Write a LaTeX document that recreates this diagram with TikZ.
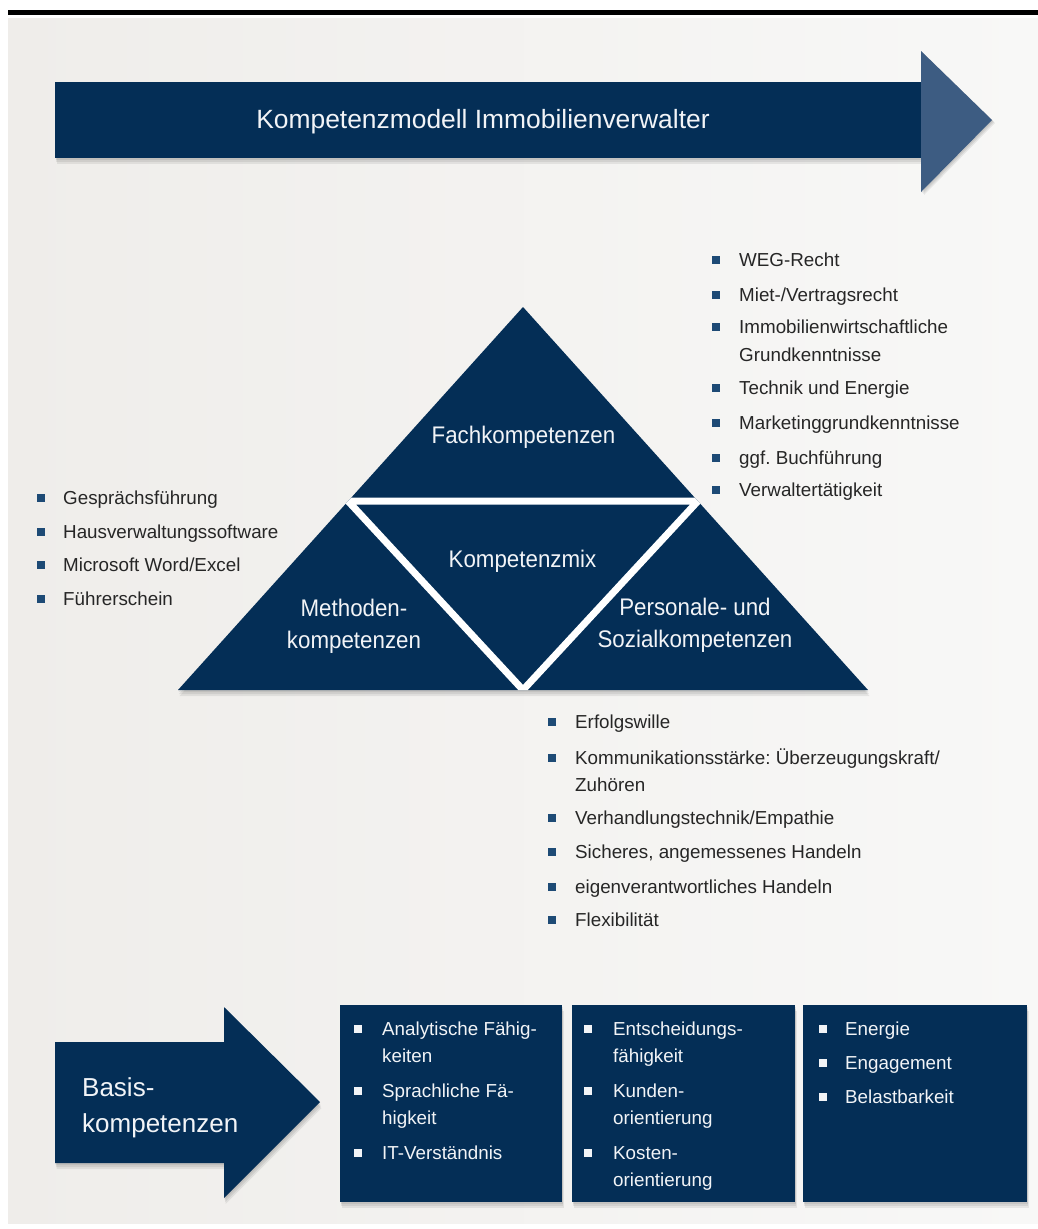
\documentclass[tikz,border=0pt]{standalone}
\usepackage{fontspec}
\setmainfont{Liberation Sans}
\newfontfamily\trifont[FakeStretch=0.93]{Liberation Sans}
\frenchspacing
\definecolor{navy}{HTML}{042E56}
\definecolor{headblue}{HTML}{3D5C82}
\definecolor{bgl}{HTML}{EFEDEA}
\definecolor{bgr}{HTML}{F8F8F7}
\definecolor{txtgray}{HTML}{262626}
\definecolor{bulblue}{HTML}{1D4A75}
\definecolor{wtext}{HTML}{F2F4F7}
\begin{document}
\begin{tikzpicture}[x=1pt,y=-1pt,
  lst/.style={anchor=base west, inner sep=0pt, font=\fontsize{18.8}{22}\selectfont, text=txtgray},
  wlst/.style={lst, text=wtext},
  big/.style={text=wtext, inner sep=0pt, align=center, font=\trifont\fontsize{24}{32}\selectfont},
  shd/.style={fill=black, opacity=0.07},
  box/.style={fill=navy, inner sep=0pt, anchor=north west, minimum height=197pt}]
\useasboundingbox (0,0) rectangle (1038,1229);
\fill[white] (0,0) rectangle (1038,1229);
\shade[left color=bgl, right color=bgr] (8,18) rectangle (1038,1223);
\draw[line width=5pt, black] (8,12.5) -- (1038,12.5);

% title arrow
\foreach \s in {2,4,6} {
  \fill[shd, shift={(\s/4,\s)}] (55,82) rectangle (921,158);
  \fill[shd, shift={(\s/2,\s/2)}] (921,51) -- (992,120) -- (921,192) -- cycle;
}
\fill[navy] (55,82) rectangle (921,158);
\fill[headblue] (921,51) -- (992,120) -- (921,192) -- cycle;
\node[anchor=base, inner sep=0pt, text=wtext, font=\fontsize{26.4}{30}\selectfont] (title) at (483,128) {Kompetenzmodell Immobilienverwalter};

% triangle
\foreach \s in {2,4,6} {
  \fill[shd, shift={(\s/4,\s)}] (523,307) -- (868,690) -- (178,690) -- cycle;
}
\fill[navy] (523,307) -- (868,690) -- (178,690) -- cycle;
\begin{scope}
  \clip (523,307) -- (868,690) -- (178,690) -- cycle;
  \draw[white, line width=7pt, line join=miter] (348,501) -- (698,501) -- (523,690) -- cycle;
\end{scope}
\node[big, anchor=base] (fach) at (523.5,443) {Fachkompetenzen};
\node[big, anchor=base] (mix) at (522.5,567) {Kompetenzmix};
\node[big] (meth) at (354,626) {Methoden-\\kompetenzen};
\node[big] (pers) at (695,625) {Personale- und\\Sozialkompetenzen};

% left list
\foreach \y in {498,531.5,565,598.5} \fill[bulblue] (37,\y-4) rectangle ++(8,8);
\foreach \t/\y [count=\i] in {{Gesprächsführung}/498,{Hausverwaltungssoftware}/531.5,{Microsoft Word/Excel}/565,{Führerschein}/598.5}
  \node[lst] (L\i) at (63,\y+6.7) {\t};

% right list
\foreach \y in {260,295,327,388,423,458,490} \fill[bulblue] (712,\y-4) rectangle ++(8,8);
\foreach \t/\y [count=\i] in {{WEG-Recht}/260,{Miet-/Vertragsrecht}/295,{Immobilienwirtschaftliche}/327,{Grundkenntnisse}/355,{Technik und Energie}/388,{Marketinggrundkenntnisse}/423,{ggf. Buchführung}/458,{Verwaltertätigkeit}/490}
  \node[lst] (R\i) at (739,\y+6.7) {\t};

% bottom list
\foreach \y in {722,758,818,852,887,920} \fill[bulblue] (548,\y-4) rectangle ++(8,8);
\foreach \t/\y [count=\i] in {{Erfolgswille}/722,{Kommunikationsstärke: Überzeugungskraft/}/758,{Zuhören}/785,{Verhandlungstechnik/Empathie}/818,{Sicheres, angemessenes Handeln}/852,{eigenverantwortliches Handeln}/887,{Flexibilität}/920}
  \node[lst] (P\i) at (575,\y+6.7) {\t};

% basis arrow
\foreach \s in {2,4,6} {
  \fill[shd, shift={(\s/4,\s)}] (55,1042) -- (224,1042) -- (224,1007) -- (320,1102) -- (224,1198) -- (224,1163) -- (55,1163) -- cycle;
}
\fill[navy] (55,1042) -- (224,1042) -- (224,1007) -- (320,1102) -- (224,1198) -- (224,1163) -- (55,1163) -- cycle;
\node[anchor=west, inner sep=0pt, align=left, text=wtext, font=\fontsize{26}{36}\selectfont] (basis) at (82,1108) {Basis-\\kompetenzen};

% boxes
\foreach \x/\w in {340/222,572/223,803/224} {
  \foreach \s in {2,4,6} \fill[shd, shift={(\s/4,\s)}] (\x,1005) rectangle ++(\w,197);
}
\node[box, minimum width=222pt] (box1) at (340,1005) {};
\node[box, minimum width=223pt] (box2) at (572,1005) {};
\node[box, minimum width=224pt] (box3) at (803,1005) {};

\foreach \y in {1029,1091,1153} \fill[wtext] (354,\y-4) rectangle ++(8,8);
\foreach \t/\y [count=\i] in {{Analytische Fähig-}/1029,{keiten}/1056,{Sprachliche Fä-}/1091,{higkeit}/1118,{IT-Verständnis}/1153}
  \node[wlst] (A\i) at (382,\y+6.7) {\t};

\foreach \y in {1029,1091,1153} \fill[wtext] (584,\y-4) rectangle ++(8,8);
\foreach \t/\y [count=\i] in {{Entscheidungs-}/1029,{fähigkeit}/1056,{Kunden-}/1091,{orientierung}/1118,{Kosten-}/1153,{orientierung}/1180}
  \node[wlst] (B\i) at (613,\y+6.7) {\t};

\foreach \y in {1029,1063,1097} \fill[wtext] (819,\y-4) rectangle ++(8,8);
\foreach \t/\y [count=\i] in {{Energie}/1029,{Engagement}/1063,{Belastbarkeit}/1097}
  \node[wlst] (C\i) at (845,\y+6.7) {\t};
\end{tikzpicture}
\end{document}
